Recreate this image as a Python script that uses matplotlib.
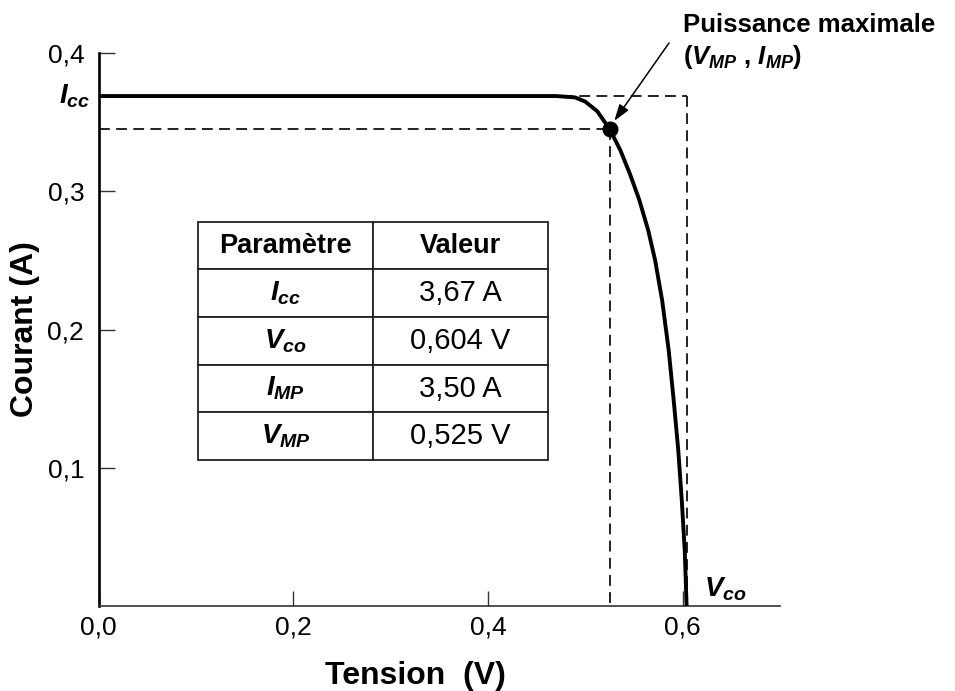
import matplotlib
matplotlib.use("Agg")
import matplotlib.pyplot as plt

plt.rcParams["font.family"] = ["Liberation Sans", "DejaVu Sans"]
plt.rcParams["mathtext.fontset"] = "custom"
plt.rcParams["mathtext.it"] = "Liberation Sans:italic:bold"
plt.rcParams["mathtext.rm"] = "Liberation Sans:bold"
plt.rcParams["mathtext.bf"] = "Liberation Sans:bold"

# I-V characteristic of the cell (voltage in V, current in A)
voltage = [0.0, 0.10, 0.20, 0.30, 0.40, 0.470, 0.4895, 0.4998, 0.5122,
           0.525, 0.5358, 0.5461, 0.5553, 0.5645, 0.5717, 0.5789, 0.5856,
           0.5907, 0.5954, 0.5990, 0.6021, 0.604]
current = [0.369, 0.369, 0.369, 0.369, 0.369, 0.369, 0.368, 0.365, 0.358,
           0.345, 0.330, 0.312, 0.294, 0.272, 0.250, 0.221, 0.185, 0.149,
           0.113, 0.077, 0.040, 0.0]

i_cc = 0.369
v_co = 0.604
i_mp = 0.345
v_mp = 0.525

x_ticks = [0.0, 0.2, 0.4, 0.6]
y_ticks = [0.1, 0.2, 0.3, 0.4]

table_header = ["Paramètre", "Valeur"]
table_names = ["$I_{cc}$", "$V_{co}$", "$I_{MP}$", "$V_{MP}$"]
table_values = ["3,67 A", "0,604 V", "3,50 A", "0,525 V"]

fig = plt.figure(figsize=(9.55, 6.91), dpi=100)
ax = fig.add_axes([0.1034, 0.1230, 0.7134, 0.8000])
ax.set_xlim(0, 0.70)
ax.set_ylim(0, 0.40)

for side in ("top", "right"):
    ax.spines[side].set_visible(False)
ax.spines["left"].set_linewidth(1.9)
ax.spines["left"].set_color("black")
ax.spines["bottom"].set_linewidth(1.2)
ax.spines["bottom"].set_color("#333333")

fmt = lambda v: f"{v:.1f}".replace(".", ",")
ax.set_xticks(x_ticks, [fmt(v) for v in x_ticks])
ax.set_yticks(y_ticks, [fmt(v) for v in y_ticks])
ax.tick_params(axis="x", direction="in", length=10.8, width=1.0, pad=6.5,
               labelsize=19, color="#333333")
ax.tick_params(axis="y", direction="in", length=11.5, width=1.0, pad=10.5,
               labelsize=19, color="#333333")

# dashed guides at the short-circuit current / open-circuit voltage
dash_kw = dict(color="#111111", lw=1.3, dashes=(6.0, 3.5), zorder=2)
ax.plot([0, v_co], [i_cc, i_cc], **dash_kw)
ax.plot([v_co, v_co], [i_cc, 0], **dash_kw)
ax.plot([0, v_mp], [i_mp, i_mp], **dash_kw)
ax.plot([v_mp, v_mp], [i_mp, 0], **dash_kw)

ax.plot(voltage, current, color="black", lw=2.8, solid_capstyle="butt",
        solid_joinstyle="round", zorder=3)
ax.plot([v_mp], [i_mp], "o", color="black", markersize=10.5, zorder=4)

ax.text(-0.009, i_cc, "$I_{cc}$", ha="right", va="center", fontsize=20,
        clip_on=False)
ax.text(0.622, 0.002, "$V_{co}$", ha="left", va="bottom", fontsize=20,
        clip_on=False)

fig.text(683 / 955, 1 - 32 / 691, "Puissance maximale", fontsize=18.5,
         fontweight="bold", ha="left", va="baseline")
fig.text(683 / 955, 1 - 64 / 691, "($V_{MP}$ , $I_{MP}$)", fontsize=18.5,
         fontweight="bold", ha="left", va="baseline")
ax.annotate("", xy=(0.5297, 0.351), xycoords="data",
            xytext=(669 / 955, 1 - 43 / 691), textcoords="figure fraction",
            arrowprops=dict(arrowstyle="-|>,head_length=1.0,head_width=0.33",
                            color="black", lw=1.1, shrinkA=0, shrinkB=0),
            annotation_clip=False)

fig.text(415 / 955, 1 - 676 / 691, "Tension  (V)", fontsize=23,
         fontweight="bold", ha="center", va="center")
fig.text(25 / 955, 1 - 329 / 691, "Courant (A)", fontsize=23,
         fontweight="bold", ha="center", va="center", rotation=90)

rows = [[n, v] for n, v in zip(table_names, table_values)]
tbl = ax.table(cellText=rows, colLabels=table_header, cellLoc="center",
               colWidths=[0.5, 0.5],
               bbox=[0.1457, 0.2641, 0.5137, 0.4311])
tbl.auto_set_font_size(False)
for (r, c), cell in tbl.get_celld().items():
    cell.set_linewidth(1.3)
    cell.set_edgecolor("#222222")
    txt = cell.get_text()
    if r == 0:
        txt.set_fontweight("bold")
        txt.set_fontsize(19.5)
    elif c == 0:
        txt.set_fontsize(20)
    else:
        txt.set_fontsize(21)

fig.savefig("out.png", dpi=100, facecolor="white")
